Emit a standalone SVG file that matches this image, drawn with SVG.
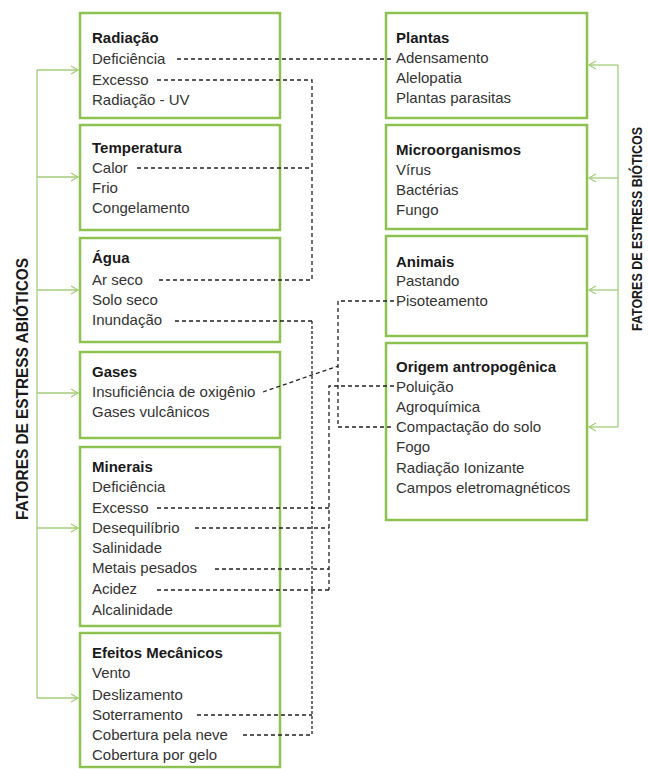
<svg xmlns="http://www.w3.org/2000/svg" width="648" height="769" viewBox="0 0 648 769">
<style>
.box{fill:#ffffff;stroke:#8dc150;stroke-width:2.5}
.t{font-family:"Liberation Sans",Arial,sans-serif;font-size:15px;fill:#333333}
.h{font-weight:bold;fill:#1a1a1a}
.lbl{font-family:"Liberation Sans",Arial,sans-serif;font-weight:bold;fill:#1a1a1a;text-anchor:middle}
.g{fill:none;stroke:#a5cd78;stroke-width:1.3}
.d{fill:none;stroke:#222222;stroke-width:1.3;stroke-dasharray:4 3}
.dd{fill:none;stroke:#222222;stroke-width:1.3;stroke-dasharray:3 2}
</style>
<defs>
<marker id="ah" markerWidth="10" markerHeight="10" refX="8" refY="5" orient="auto" markerUnits="userSpaceOnUse">
<path d="M1,1 L8,5 L1,9" fill="none" stroke="#a5cd78" stroke-width="1.3"/>
</marker>
</defs>
<rect width="648" height="769" fill="#ffffff"/>

<g id="label-abioticos">
<text class="lbl" font-size="17" transform="translate(22,389) rotate(-90)" y="6" textLength="262" lengthAdjust="spacingAndGlyphs">FATORES DE ESTRESS ABIÓTICOS</text>
</g>
<g id="label-bioticos">
<text class="lbl" font-size="15" transform="translate(637,229) rotate(-90)" y="5" textLength="204" lengthAdjust="spacingAndGlyphs">FATORES DE ESTRESS BIÓTICOS</text>
</g>

<g id="radiacao">
<rect class="box" x="80" y="13" width="200" height="105"/>
<text class="t h" x="92" y="43">Radiação</text>
<text class="t" x="92" y="64">Deficiência</text>
<text class="t" x="92" y="85">Excesso</text>
<text class="t" x="92" y="105">Radiação - UV</text>
</g>
<g id="temperatura">
<rect class="box" x="80" y="125" width="200" height="105"/>
<text class="t h" x="92" y="153">Temperatura</text>
<text class="t" x="92" y="173">Calor</text>
<text class="t" x="92" y="193">Frio</text>
<text class="t" x="92" y="213">Congelamento</text>
</g>
<g id="agua">
<rect class="box" x="80" y="238" width="200" height="104"/>
<text class="t h" x="92" y="263">Água</text>
<text class="t" x="92" y="285">Ar seco</text>
<text class="t" x="92" y="305">Solo seco</text>
<text class="t" x="92" y="325">Inundação</text>
</g>
<g id="gases">
<rect class="box" x="80" y="352" width="200" height="86"/>
<text class="t h" x="92" y="377">Gases</text>
<text class="t" x="92" y="397">Insuficiência de oxigênio</text>
<text class="t" x="92" y="417">Gases vulcânicos</text>
</g>
<g id="minerais">
<rect class="box" x="80" y="447" width="200" height="179"/>
<text class="t h" x="92" y="472">Minerais</text>
<text class="t" x="92" y="492">Deficiência</text>
<text class="t" x="92" y="513">Excesso</text>
<text class="t" x="92" y="533">Desequilíbrio</text>
<text class="t" x="92" y="553">Salinidade</text>
<text class="t" x="92" y="573">Metais pesados</text>
<text class="t" x="92" y="594">Acidez</text>
<text class="t" x="92" y="615">Alcalinidade</text>
</g>
<g id="efeitos">
<rect class="box" x="80" y="633" width="200" height="134"/>
<text class="t h" x="92" y="658">Efeitos Mecânicos</text>
<text class="t" x="92" y="678">Vento</text>
<text class="t" x="92" y="700">Deslizamento</text>
<text class="t" x="92" y="720">Soterramento</text>
<text class="t" x="92" y="740">Cobertura pela neve</text>
<text class="t" x="92" y="760">Cobertura por gelo</text>
</g>

<g id="plantas">
<rect class="box" x="386" y="13" width="201" height="105"/>
<text class="t h" x="396" y="43">Plantas</text>
<text class="t" x="396" y="63">Adensamento</text>
<text class="t" x="396" y="83">Alelopatia</text>
<text class="t" x="396" y="103">Plantas parasitas</text>
</g>
<g id="microorganismos">
<rect class="box" x="386" y="125" width="201" height="104"/>
<text class="t h" x="396" y="155">Microorganismos</text>
<text class="t" x="396" y="175">Vírus</text>
<text class="t" x="396" y="195">Bactérias</text>
<text class="t" x="396" y="215">Fungo</text>
</g>
<g id="animais">
<rect class="box" x="386" y="236" width="201" height="100"/>
<text class="t h" x="396" y="267">Animais</text>
<text class="t" x="396" y="286">Pastando</text>
<text class="t" x="396" y="306">Pisoteamento</text>
</g>
<g id="origem">
<rect class="box" x="386" y="343" width="201" height="177"/>
<text class="t h" x="396" y="372">Origem antropogênica</text>
<text class="t" x="396" y="392">Poluição</text>
<text class="t" x="396" y="412">Agroquímica</text>
<text class="t" x="396" y="432">Compactação do solo</text>
<text class="t" x="396" y="452">Fogo</text>
<text class="t" x="396" y="473">Radiação Ionizante</text>
<text class="t" x="396" y="493">Campos eletromagnéticos</text>
</g>

<g id="connectors">
<path class="g" d="M37,70 V698"/>
<path class="g" d="M37,70 H78" marker-end="url(#ah)"/>
<path class="g" d="M37,177 H78" marker-end="url(#ah)"/>
<path class="g" d="M37,290 H78" marker-end="url(#ah)"/>
<path class="g" d="M37,393 H78" marker-end="url(#ah)"/>
<path class="g" d="M37,528 H78" marker-end="url(#ah)"/>
<path class="g" d="M37,698 H78" marker-end="url(#ah)"/>
<path class="g" d="M618,65 V427"/>
<path class="g" d="M618,65 H589" marker-end="url(#ah)"/>
<path class="g" d="M618,178 H589" marker-end="url(#ah)"/>
<path class="g" d="M618,290 H589" marker-end="url(#ah)"/>
<path class="g" d="M618,427 H589" marker-end="url(#ah)"/>

<path class="d" d="M177,59 H394"/>
<path class="d" d="M157,80 H312 V280 H157"/>
<path class="d" d="M137,168 H312"/>
<path class="d" d="M175,321 H312"/>
<path class="dd" d="M312,321 V735"/>
<path class="d" d="M197,715 H312"/>
<path class="d" d="M243,735 H312"/>
<path class="d" d="M157,508 H329"/>
<path class="d" d="M195,528 H329"/>
<path class="d" d="M215,569 H329"/>
<path class="d" d="M157,590 H329"/>
<path class="d" d="M394,386 H329 V590"/>
<path class="d" d="M394,301 H338 V427 H394"/>
<path class="d" d="M263,392 L338,366"/>
</g>
</svg>
